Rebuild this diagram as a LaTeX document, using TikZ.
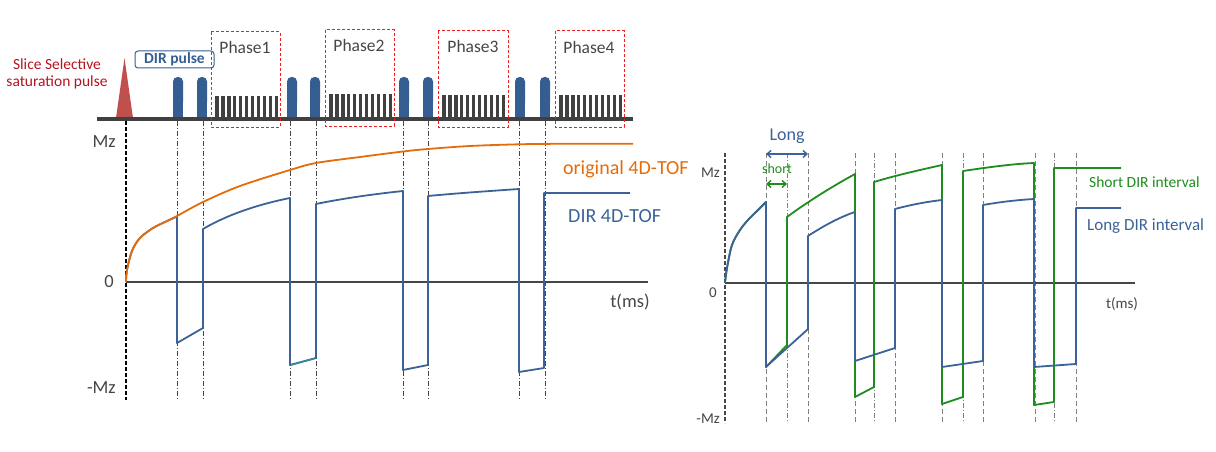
\documentclass[tikz,border=0pt]{standalone}
\usepackage{fontspec}
\setmainfont{Carlito}
\usetikzlibrary{arrows.meta}
\definecolor{dirblue}{RGB}{52,94,146}
\definecolor{curveblue}{RGB}{59,99,152}
\definecolor{tealseg}{RGB}{50,140,160}
\definecolor{origorange}{RGB}{228,108,10}
\definecolor{shortgreen}{RGB}{30,140,30}
\definecolor{trired}{RGB}{192,80,77}
\definecolor{slicered}{RGB}{180,20,30}
\definecolor{barsgray}{RGB}{64,64,64}
\definecolor{axisgray}{RGB}{70,70,70}
\definecolor{phasered}{RGB}{240,30,30}
\tikzset{
  fs/.style={font=\fontsize{#1}{#1}\selectfont},
  phasebox/.style={draw=phasered, line width=1pt, dash pattern=on 3pt off 2pt},
  marker/.style={draw=axisgray, line width=0.7pt, dash pattern=on 5pt off 2pt on 1pt off 2pt},
  rdash/.style={draw=gray, line width=1pt, dash pattern=on 5pt off 3pt},
  rdashdot/.style={draw=gray, line width=1pt, dash pattern=on 5pt off 2pt on 1pt off 2pt},
  curve/.style={line width=1.8pt, line join=round},
  axisline/.style={draw=axisgray, line width=1.6pt},
  lbl/.style={inner sep=0pt, text=axisgray},
}
\begin{document}
\begin{tikzpicture}[x=1pt,y=-1pt]
\useasboundingbox (0,0) rectangle (1216,452);

% ---------------- left: pulse sequence ----------------
\fill[trired] (116,118) -- (124.5,58) -- (133,118) -- cycle;
\node[fs=15.5, text=slicered, align=center, inner sep=0pt] (slice) at (57,74)
  {Slice Selective\\[1pt]saturation pulse};
\node[text=dirblue, draw=dirblue, line width=1pt,
  rounded corners=3pt, minimum width=79pt, minimum height=17pt, inner sep=0pt] (dirp) at (174.5,59.5) {\fontsize{15.5}{15.5}\selectfont\bfseries DIR pulse};

\foreach \x in {173,197,287,310,399,423,515,540} {
  \fill[dirblue, rounded corners=4.5pt] (\x,77) rectangle ++(10,30);
  \fill[dirblue] (\x,100) rectangle ++(10,18);
}
\foreach \s/\t in {215/96,329/94.5,442/95.5,559/95.5} {
  \foreach \i in {0,...,10} {
    \fill[barsgray] ({\s+\i*5.95},\t) rectangle ({\s+\i*5.95+3.6},118);
  }
}
\draw[barsgray, line width=4pt] (97,118.5) -- (633,118.5);

\draw[phasebox] (211,32) rectangle (280,127);
\draw[phasebox] (325,30) rectangle (394,126);
\draw[phasebox] (438,31) rectangle (508,127);
\draw[phasebox] (555,31) rectangle (624,127);
\node[fs=17.5, lbl] (ph1) at (245,47) {Phase1};
\node[fs=17.5, lbl] (ph2) at (359,45) {Phase2};
\node[fs=17.5, lbl] (ph3) at (473,46) {Phase3};
\node[fs=17.5, lbl] (ph4) at (589,47) {Phase4};

% ---------------- left: graph ----------------
\foreach \x in {177,203,290,316,403,428,519,545}
  \draw[marker] (\x,121) -- (\x,400);
\draw[black, line width=1.2pt, dash pattern=on 4pt off 2pt] (126,121) -- (126,400);
\draw[axisline] (126,282) -- (648,282);

\node[fs=18.5, lbl, anchor=east] (lmz) at (116,142) {Mz};
\node[fs=18.5, lbl, anchor=east] (l0) at (114,282) {0};
\node[fs=18.5, lbl, anchor=east] (lmmz) at (116,388) {-Mz};
\node[fs=18.5, lbl] (lt) at (630,302) {t(ms)};

\draw[curve, curveblue] plot[smooth, tension=0.55] coordinates
  {(126,282) (127,270) (132,251) (140,238) (153,228) (165,222) (177,216.5)}
  -- (177,343) -- (203,328) -- (203,229)
  .. controls (225,216) and (255,205) .. (290,198)
  -- (290,365) -- (316,358) -- (316,204)
  .. controls (345,198) and (375,194) .. (403,191)
  -- (403,370) -- (428,365) -- (428,196)
  .. controls (460,193) and (490,191) .. (519,189)
  -- (519,372) -- (544,368) -- (544,193) -- (630,193);
\draw[curve, tealseg, line width=1.4pt] (291,365) -- (315,358.3);
\draw[curve, origorange] plot[smooth, tension=0.55] coordinates
  {(126,282) (127,270) (132,251) (140,238) (153,228) (165,222) (177,216)
   (203,202) (240,186) (290,170) (316,163) (360,157) (403,151.5) (428,149)
   (470,146) (519,144.3) (560,143.8) (633,143.8)};

\node[fs=20, inner sep=0pt, anchor=west, text=origorange] (orig) at (563,169) {original 4D-TOF};
\node[fs=20, inner sep=0pt, anchor=west, text=curveblue] (dir) at (568,216) {DIR 4D-TOF};

% ---------------- right: graph ----------------
\foreach \x in {766,808,855,895,942,983,1035,1076}
  \draw[rdash] (\x,153) -- (\x,423);
\foreach \x in {787,874,963,1054}
  \draw[rdashdot] (\x,153) -- (\x,423);
\draw[axisgray, line width=1.2pt, dash pattern=on 4pt off 2pt] (725,153) -- (725,423);
\draw[axisline] (725,283) -- (1135,283);

\node[fs=15, lbl, anchor=east] (rmz) at (720,173) {Mz};
\node[fs=15, lbl] (r0) at (713,293) {0};
\node[fs=15, lbl, anchor=east] (rmmz) at (720,419) {-Mz};
\node[fs=15, lbl] (rt) at (1122,304) {t(ms)};

\draw[curve, shortgreen] plot[smooth, tension=0.55] coordinates
  {(725,283) (727,268) (732,245) (740,230) (748,220) (757,211) (766,202)}
  -- (766,367) -- (787,345) -- (787,217)
  .. controls (810,200) and (835,185) .. (855,174)
  -- (855,397) -- (874,387) -- (874,182)
  .. controls (897,175) and (920,170) .. (942,165)
  -- (942,404) -- (963,397) -- (963,171)
  .. controls (990,167) and (1012,164) .. (1034,163)
  -- (1034,405) -- (1054,402) -- (1054,168) -- (1121,168);
\draw[curve, curveblue] plot[smooth, tension=0.55] coordinates
  {(725,283) (727,268) (732,245) (740,230) (748,220) (757,211) (766,202)}
  -- (766,367) .. controls (780,354) and (795,341) .. (808,329) -- (808,236)
  .. controls (825,225) and (840,217) .. (855,212)
  -- (855,361) -- (895,348) -- (895,209)
  .. controls (910,205) and (925,202) .. (942,200)
  -- (942,367) -- (983,361) -- (983,205)
  .. controls (1000,202) and (1017,200) .. (1034,199)
  -- (1034,367) -- (1076,364) -- (1076,208) -- (1121,208);

\node[fs=15.5, inner sep=0pt, anchor=west, text=shortgreen] (sdi) at (1089,182) {Short DIR interval};
\node[fs=17, inner sep=0pt, anchor=west, text=curveblue] (ldi) at (1087,226) {Long DIR interval};

\coordinate (la) at (766,154);
\coordinate (lb) at (808,154);
\coordinate (sa) at (766,184);
\coordinate (sb) at (787,184);
\draw[curveblue, line width=1.4pt, {Straight Barb[length=4pt,width=7pt]}-{Straight Barb[length=4pt,width=7pt]}] (la) -- (lb);
\draw[shortgreen, line width=1.4pt, {Straight Barb[length=4pt,width=7pt]}-{Straight Barb[length=4pt,width=7pt]}] (sa) -- (sb);
\node[fs=18, inner sep=0pt, text=curveblue] (long) at (787,136) {Long};
\node[fs=14, inner sep=0pt, text=shortgreen] (short) at (777,169) {short};
\end{tikzpicture}
\end{document}
